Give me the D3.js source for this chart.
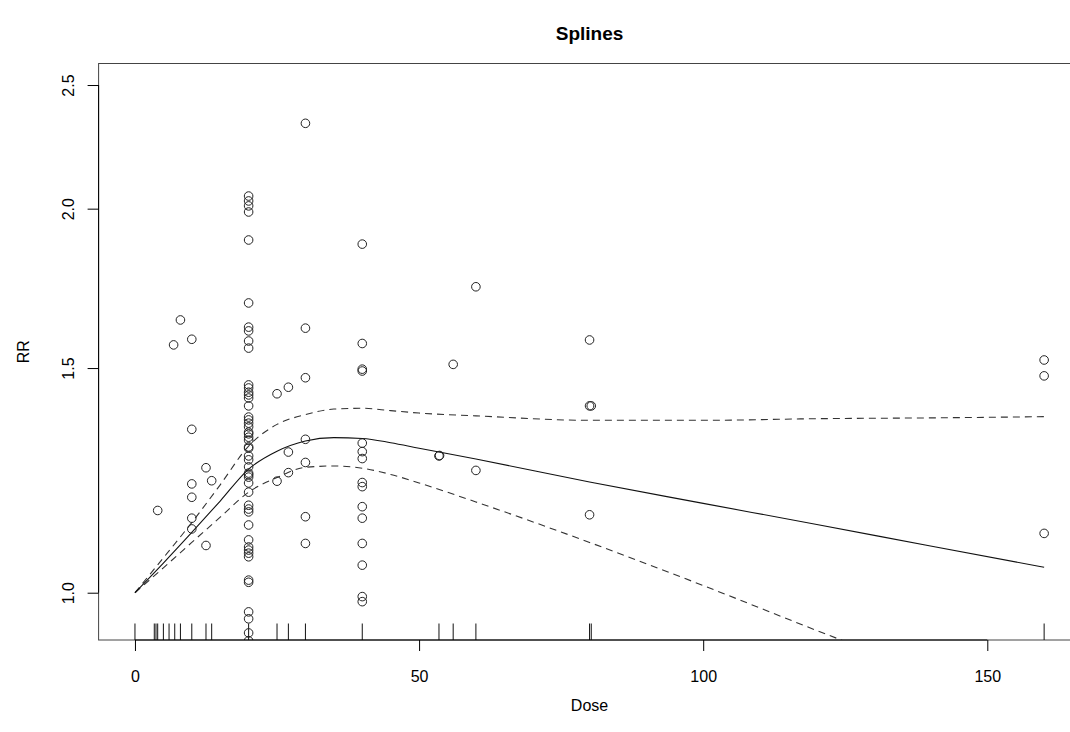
<!DOCTYPE html>
<html lang="en">
<head>
    <meta charset="UTF-8">
    <title>Splines</title>
    <script src="https://cdnjs.cloudflare.com/ajax/libs/d3/7.8.5/d3.min.js"></script>
    <style>
        body {
            margin: 0;
            background: white;
            font-family: "Liberation Sans", Arial, sans-serif;
            overflow: hidden;
        }
        svg {
            display: block;
        }
        .pt {
            fill: none;
            stroke: #222;
            stroke-width: 1;
        }
        .fit {
            fill: none;
            stroke: #111;
            stroke-width: 1.1;
        }
        .ci {
            fill: none;
            stroke: #333;
            stroke-width: 1.1;
            stroke-dasharray: 7 5;
        }
    </style>
</head>
<body>
    <svg id="chart" width="1070" height="732"></svg>

    <script>
        // fitted spline + confidence band
        const doses   = [0, 5, 10, 15, 20, 25, 30, 35, 40, 45, 50, 60, 80, 100, 120, 140, 160];
        const rrFit   = [1.000, 1.055, 1.115, 1.180, 1.250, 1.291, 1.315, 1.323, 1.321, 1.311, 1.298, 1.273, 1.221, 1.175, 1.131, 1.088, 1.047];
        const rrUpper = [1.000, 1.065, 1.135, 1.215, 1.303, 1.355, 1.379, 1.393, 1.395, 1.389, 1.383, 1.376, 1.365, 1.365, 1.369, 1.371, 1.374];
        const rrLower = [1.000, 1.046, 1.095, 1.146, 1.199, 1.231, 1.254, 1.257, 1.252, 1.238, 1.219, 1.178, 1.095, 1.013, 0.934, 0.863, 0.798];

        // observed study points
        const obsDose = [
            4, 6.8, 8,
            10, 10, 10, 10, 10, 10,
            12.5, 12.5, 13.5,
            20, 20, 20, 20, 20, 20, 20, 20, 20, 20,
            20, 20, 20, 20, 20, 20, 20, 20, 20, 20,
            20, 20, 20, 20, 20, 20, 20, 20, 20, 20,
            20, 20, 20, 20, 20, 20, 20, 20, 20, 20,
            20, 20, 20, 20, 20, 20, 20, 20, 20,
            25, 25, 27, 27, 27,
            30, 30, 30, 30, 30, 30, 30,
            40, 40, 40, 40, 40, 40, 40, 40, 40, 40, 40, 40, 40, 40, 40,
            53.5, 53.6, 56, 60, 60,
            80, 80, 80, 80.3,
            160, 160, 160
        ];
        const obsRR = [
            1.160, 1.564, 1.636,
            1.580, 1.343, 1.217, 1.188, 1.144, 1.122,
            1.253, 1.089, 1.224,
            2.046, 2.028, 2.010, 1.988, 1.890, 1.687, 1.615, 1.604, 1.575, 1.555,
            1.455, 1.447, 1.436, 1.429, 1.421, 1.401, 1.373, 1.366, 1.358, 1.349,
            1.336, 1.332, 1.324, 1.317, 1.301, 1.298, 1.280, 1.271, 1.255, 1.241,
            1.237, 1.232, 1.219, 1.199, 1.171, 1.163, 1.157, 1.130, 1.100, 1.086,
            1.080, 1.074, 1.067, 1.023, 1.019, 0.966, 0.954, 0.930, 0.917,
            1.432, 1.223, 1.449, 1.289, 1.242,
            2.333, 1.612, 1.474, 1.319, 1.265, 1.147, 1.093,
            1.876, 1.568, 1.497, 1.492, 1.310, 1.290, 1.274, 1.220, 1.211, 1.168, 1.144, 1.093, 1.051, 0.993, 0.984,
            1.280, 1.281, 1.510, 1.737, 1.247,
            1.578, 1.401, 1.151, 1.401,
            1.522, 1.479, 1.113
        ];

        // rug of doses along the bottom
        const rugDose = [0, 3.4, 3.7, 4, 5, 6, 7, 8, 10, 12.5, 13.5, 20, 25, 27, 30, 40, 53.5, 56, 60, 80, 80.3, 160];

        const xTicks = [0, 50, 100, 150];
        const yTicks = [1.0, 1.5, 2.0, 2.5];

        const svg = d3.select("#chart");
        const pLeft = 98.6, pRight = 1080.5, pTop = 63.5, pBottom = 640;

        const x = d3.scaleLinear().domain([-6.4, 166.4]).range([pLeft, pRight]);
        const y = d3.scaleLog().domain([0.9182, 2.599]).range([pBottom, pTop]);

        svg.append("defs").append("clipPath").attr("id", "plotClip")
            .append("rect")
            .attr("x", pLeft).attr("y", pTop)
            .attr("width", pRight - pLeft).attr("height", pBottom - pTop);

        // box
        svg.append("rect")
            .attr("x", pLeft).attr("y", pTop)
            .attr("width", pRight - pLeft).attr("height", pBottom - pTop)
            .attr("fill", "none")
            .attr("stroke", "#444")
            .attr("stroke-width", 1);

        const plot = svg.append("g").attr("clip-path", "url(#plotClip)");

        // rug
        plot.selectAll(".rug")
            .data(rugDose)
            .enter()
            .append("line")
            .attr("class", "rug")
            .attr("x1", d => x(d)).attr("x2", d => x(d))
            .attr("y1", pBottom).attr("y2", pBottom - 16.5)
            .attr("stroke", "#111")
            .attr("stroke-width", 1);

        // curves
        const curveData = doses.map((d, i) => ({ dose: d, fit: rrFit[i], hi: rrUpper[i], lo: rrLower[i] }));
        const mkLine = key => d3.line()
            .x(d => x(d.dose))
            .y(d => y(d[key]))
            .curve(d3.curveMonotoneX);

        plot.append("path").datum(curveData).attr("class", "ci").attr("d", mkLine("hi"));
        plot.append("path").datum(curveData).attr("class", "ci").attr("d", mkLine("lo"));
        plot.append("path").datum(curveData).attr("class", "fit").attr("d", mkLine("fit"));

        // points
        plot.selectAll(".pt")
            .data(obsDose.map((d, i) => [d, obsRR[i]]))
            .enter()
            .append("circle")
            .attr("class", "pt")
            .attr("cx", d => x(d[0]))
            .attr("cy", d => y(d[1]))
            .attr("r", 4.3);

        // axes
        const font = '"Liberation Sans", Arial, sans-serif';

        const xAxis = svg.append("g")
            .attr("transform", `translate(0,${pBottom})`)
            .call(d3.axisBottom(x).tickValues(xTicks).tickFormat(d3.format("d")).tickSize(11).tickSizeOuter(0).tickPadding(20));
        xAxis.select(".domain").attr("d", `M${x(0)},0H${x(150)}`).attr("stroke", "#000");
        xAxis.selectAll("text").attr("font-size", 16).attr("font-family", font).attr("fill", "#000");

        const yAxis = svg.append("g")
            .attr("transform", `translate(${pLeft},0)`)
            .call(d3.axisLeft(y).tickValues(yTicks).tickFormat(d3.format(".1f")).tickSize(11).tickSizeOuter(0));
        yAxis.select(".domain").attr("d", `M0,${y(1.0)}V${y(2.5)}`).attr("stroke", "#000");
        yAxis.selectAll("text")
            .attr("font-size", 16)
            .attr("font-family", font)
            .attr("fill", "#000")
            .attr("text-anchor", "middle")
            .attr("transform", "rotate(-90)")
            .attr("x", 0)
            .attr("y", -25)
            .attr("dy", 0);

        // titles
        svg.append("text")
            .attr("x", (pLeft + pRight) / 2).attr("y", 40)
            .attr("text-anchor", "middle")
            .attr("font-family", font)
            .attr("font-weight", "bold")
            .attr("font-size", 19)
            .text("Splines");

        svg.append("text")
            .attr("x", (pLeft + pRight) / 2).attr("y", 711)
            .attr("text-anchor", "middle")
            .attr("font-family", font)
            .attr("font-size", 16)
            .text("Dose");

        svg.append("text")
            .attr("transform", `translate(29,${(pTop + pBottom) / 2}) rotate(-90)`)
            .attr("text-anchor", "middle")
            .attr("font-family", font)
            .attr("font-size", 16)
            .text("RR");
    </script>
</body>
</html>
